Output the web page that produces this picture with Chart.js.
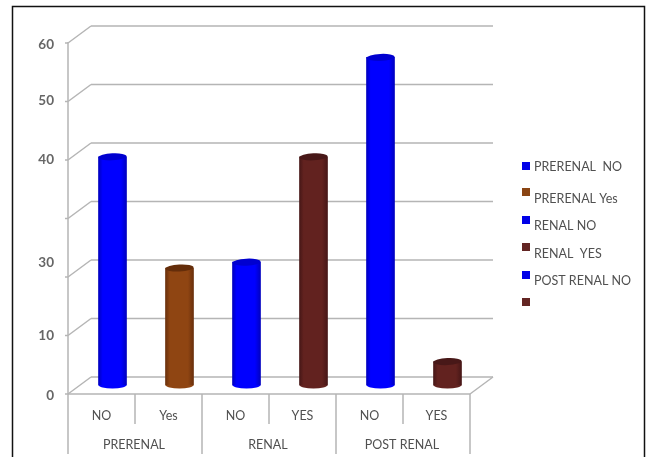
<!DOCTYPE html>
<html lang="en">
<head>
<meta charset="UTF-8">
<title>Renal groups 3D cylinder chart</title>
<script src="https://cdn.jsdelivr.net/npm/chart.js"></script>
<style>
  html, body { margin: 0; padding: 0; background: #fff; }
  canvas { display: block; filter: blur(0.45px); }
</style>
</head>
<body>
<canvas id="myChart" width="650" height="457"></canvas>
<script>
// data
const categories = ['NO', 'Yes', 'NO', 'YES', 'NO', 'YES'];
const groups = ['PRERENAL', 'RENAL', 'POST RENAL'];
const values = [39, 20, 21, 39, 56, 4];
const tickValues = [0, 10, 20, 30, 40, 50, 60];
// the original axis really is labelled like this, with gaps
const tickLabels = ['0', '10', '30', '', '40', '50', '60'];
const legendLabels = ['PRERENAL  NO', 'PRERENAL Yes', 'RENAL NO', 'RENAL  YES', 'POST RENAL NO', ''];

// edge, middle, cap, legend
const BLUE = ['#0000c0', '#0000ff', '#0000d0', '#0000e8'];
const BROWN = ['#6a300c', '#8f4512', '#642d0a', '#8a4513'];
const MAROON = ['#471717', '#62221f', '#481818', '#632523'];
const barColors = [BLUE, BROWN, BLUE, MAROON, BLUE, MAROON];

const GRID = '#b5b5b5';
const TEXT = '#505050';
const FONT = 'Lato, sans-serif';
const DX = 23, DY = -17;        // depth of the 3D box
const BAR_DX = 11, BAR_DY = -9; // bars stand in the middle of the box
const BAR_W = 28;

// legend rows: marker y, text y
const legendRows = [[166, 167], [192, 199], [220, 226], [247, 254], [275, 281], [302, 302]];
// y label nudges, the source has them a little off the ticks
const labelNudge = [2, 0, -14, 0, 0, -1, 2];

function line(ctx, x1, y1, x2, y2) {
  ctx.beginPath();
  ctx.moveTo(x1, y1);
  ctx.lineTo(x2, y2);
  ctx.stroke();
}

const box3d = {
  id: 'box3d',
  beforeDatasetsDraw(chart) {
    const { ctx, chartArea: a, scales: { x, y } } = chart;
    ctx.save();

    // frame of the figure
    ctx.strokeStyle = '#111';
    ctx.lineWidth = 1.5;
    ctx.strokeRect(12.5, 6.5, 632, 470);

    // walls
    ctx.strokeStyle = GRID;
    ctx.lineWidth = 1.5;
    line(ctx, a.left, a.top - 1, a.left, a.bottom);
    tickValues.forEach(v => {
      const py = y.getPixelForValue(v);
      line(ctx, a.left - 3, py, a.left, py);
      line(ctx, a.left, py, a.left + DX, py + DY);
      line(ctx, a.left + DX, py + DY, a.right + DX, py + DY);
    });
    // floor
    line(ctx, a.left, a.bottom, a.right, a.bottom);
    line(ctx, a.right, a.bottom, a.right + DX, a.bottom + DY);

    // category separators
    const step = x.width / categories.length;
    for (let i = 0; i <= categories.length; i++) {
      const px = a.left + i * step;
      line(ctx, px, a.bottom, px, i % 2 === 0 ? 454 : 424);
    }

    // y labels
    ctx.fillStyle = '#666';
    ctx.font = 'bold 13.5px ' + FONT;
    ctx.textAlign = 'right';
    ctx.textBaseline = 'middle';
    tickValues.forEach((v, i) => {
      ctx.fillText(tickLabels[i], 54, y.getPixelForValue(v) + labelNudge[i]);
    });

    // group labels
    ctx.fillStyle = TEXT;
    ctx.font = '12.5px ' + FONT;
    ctx.textAlign = 'center';
    groups.forEach((g, i) => {
      ctx.fillText(g, a.left + (2 * i + 1) * step - 1, 445);
    });

    // legend
    ctx.textAlign = 'left';
    legendLabels.forEach((l, i) => {
      ctx.fillStyle = barColors[i][3];
      ctx.fillRect(522, legendRows[i][0] - 4, 8, 8);
      ctx.fillStyle = TEXT;
      ctx.fillText(l, 534, legendRows[i][1]);
    });
    ctx.restore();

    // bars get shifted into the box
    ctx.save();
    ctx.translate(BAR_DX, BAR_DY);
  },
  afterDatasetsDraw(chart) {
    const { ctx } = chart;
    chart.getDatasetMeta(0).data.forEach((bar, i) => {
      const c = barColors[i];
      const r = BAR_W / 2;
      // round bottom
      ctx.fillStyle = c[1];
      ctx.beginPath();
      ctx.ellipse(bar.x, bar.base, r, 3.5, 0, 0, Math.PI);
      ctx.fill();
      // top cap, slightly tilted
      ctx.fillStyle = c[2];
      ctx.beginPath();
      ctx.ellipse(bar.x, bar.y, r, 3.5, -0.05, 0, Math.PI * 2);
      ctx.fill();
    });
    ctx.restore();
  }
};

const ctx = document.getElementById('myChart').getContext('2d');

new Chart(ctx, {
  type: 'bar',
  data: {
    labels: categories,
    datasets: [{
      data: values,
      barThickness: BAR_W,
      borderWidth: 0,
      clip: false,
      backgroundColor(context) {
        // cylinder shading across the bar
        const i = context.dataIndex;
        if (i === undefined) return BLUE[1];
        const cx = context.chart.scales.x.getPixelForValue(i);
        if (!isFinite(cx)) return barColors[i][1];
        const g = context.chart.ctx.createLinearGradient(cx - BAR_W / 2, 0, cx + BAR_W / 2, 0);
        g.addColorStop(0, barColors[i][0]);
        g.addColorStop(0.15, barColors[i][1]);
        g.addColorStop(0.8, barColors[i][1]);
        g.addColorStop(1, barColors[i][0]);
        return g;
      }
    }]
  },
  options: {
    responsive: false,
    animation: false,
    layout: { padding: { top: 43, right: 180 } },
    plugins: { legend: { display: false }, tooltip: { enabled: false } },
    scales: {
      x: {
        grid: { display: false },
        border: { display: false },
        ticks: {
          color: TEXT,
          font: { family: 'Lato', size: 12.5 },
          padding: 6,
          maxRotation: 0,
          autoSkip: false
        },
        afterFit(s) { s.height = 63; }
      },
      y: {
        min: 0,
        max: 60,
        grid: { display: false },
        border: { display: false },
        ticks: { display: false },
        afterFit(s) { s.width = 68; }
      }
    }
  },
  plugins: [box3d]
});
</script>
</body>
</html>
